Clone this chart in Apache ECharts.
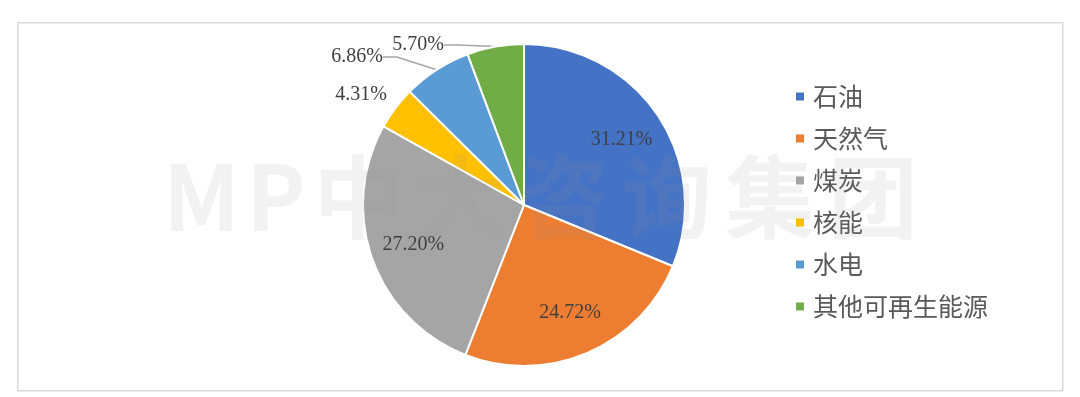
<!DOCTYPE html>
<html>
<head>
<meta charset="utf-8">
<script src="https://cdn.jsdelivr.net/npm/echarts@6/dist/echarts.min.js"></script>
<style>
  html, body { margin: 0; padding: 0; background: #fff; }
  #main { width: 1080px; height: 397px; }
</style>
</head>
<body>
<div id="main"></div>
<script>
// 能源结构占比
var categories = ['石油', '天然气', '煤炭', '核能', '水电', '其他可再生能源'];
var shares = [31.21, 24.72, 27.20, 4.31, 6.86, 5.70];
var colors = ['#4472C4', '#ED7D31', '#A5A5A5', '#FFC000', '#5B9BD5', '#70AD47'];

var pieCenter = [524, 205];
var pieRadius = 161;
// 外侧小扇区标签的位置（手动摆放，和原图一致）
var outsideLabel = {
    '核能': { x: 361, y: 95, line: false },
    '水电': { x: 357, y: 57, line: true },
    '其他可再生能源': { x: 418, y: 45, line: true }
};

(function () {
    var dom = document.getElementById('main');
    var myChart = echarts.init(dom);

    var data = categories.map(function (name, i) {
        var inside = !outsideLabel[name];
        return {
            name: name,
            value: shares[i],
            label: { position: inside ? 'inside' : 'outside' },
            labelLine: { show: !inside && outsideLabel[name].line }
        };
    });

    // 水印，逐字摆放
    var wmChars = ['M', 'P', '中', '大', '咨', '询', '集', '团'];
    var wmX = [163, 246, 313, 416, 519, 622, 725, 828];
    var wm = wmChars.map(function (c, i) {
        return {
            type: 'text',
            left: wmX[i],
            top: 152,
            z: 100,
            silent: true,
            style: {
                text: c,
                font: 'bold 90px "Noto Sans CJK SC"',
                fill: 'rgba(150,150,150,0.12)'
            }
        };
    });

    var option = {
        color: colors,
        animation: false,
        graphic: [{
            type: 'rect',
            left: 17,
            top: 22,
            z: -1,
            shape: { width: 1045, height: 368 },
            style: { fill: '#fff', stroke: '#D9D9D9', lineWidth: 1.5 }
        }].concat(wm),
        legend: {
            orient: 'vertical',
            left: 794,
            top: 84,
            padding: 0,
            icon: 'rect',
            itemWidth: 10,
            itemHeight: 10,
            itemGap: 17,
            textStyle: {
                fontFamily: '"Noto Sans CJK SC"',
                fontSize: 25,
                lineHeight: 25,
                color: '#595959',
                padding: [0, 0, 0, 3]
            },
            data: categories
        },
        series: [{
            type: 'pie',
            center: pieCenter,
            radius: pieRadius,
            startAngle: 90,
            clockwise: true,
            avoidLabelOverlap: false,
            itemStyle: { borderColor: '#fff', borderWidth: 2 },
            label: {
                formatter: function (p) { return p.value.toFixed(2) + '%'; },
                fontFamily: '"Times New Roman", "Liberation Serif", serif',
                fontSize: 20,
                color: '#404040'
            },
            labelLine: {
                length: 8,
                length2: 14,
                lineStyle: { color: '#A6A6A6', width: 1.5 }
            },
            labelLayout: function (p) {
                var name = categories[p.dataIndex];
                if (outsideLabel[name]) {
                    return { x: outsideLabel[name].x, y: outsideLabel[name].y, align: 'center', verticalAlign: 'middle' };
                }
                var r = p.labelRect;
                var lx = r.x + r.width / 2, ly = r.y + r.height / 2;
                var ang = Math.atan2(ly - pieCenter[1], lx - pieCenter[0]);
                return {
                    x: pieCenter[0] + Math.cos(ang) * pieRadius * 0.73,
                    y: pieCenter[1] + Math.sin(ang) * pieRadius * 0.73,
                    align: 'center',
                    verticalAlign: 'middle'
                };
            },
            emphasis: { disabled: true },
            data: data
        }]
    };
    myChart.setOption(option, true);
    window.onresize = function () { myChart.resize(); };
})();
</script>
</body>
</html>
